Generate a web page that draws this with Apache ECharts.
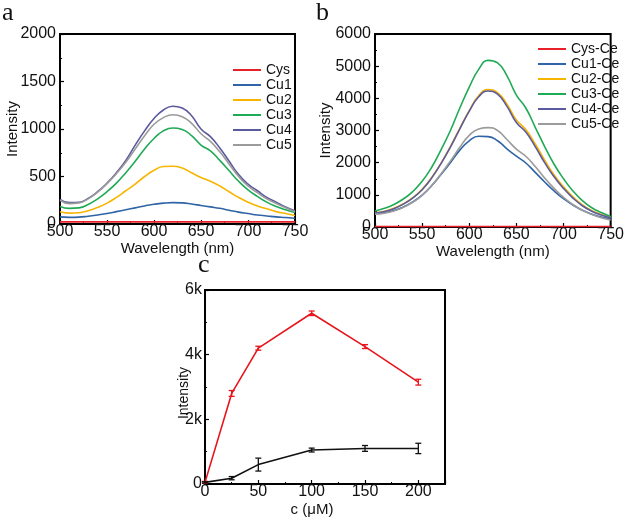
<!DOCTYPE html>
<html>
<head>
<meta charset="utf-8">
<script src="https://cdn.jsdelivr.net/npm/echarts@6/dist/echarts.min.js"></script>
<style>
    html, body { margin: 0; padding: 0; background: #fff; }
    #main { width: 627px; height: 524px; }
</style>
</head>
<body>
<div id="main"></div>
<script>
// wavelength grid shared by panels a and b (nm)
const wavelengths = [500, 510, 520, 530, 540, 550, 560, 570, 580, 590, 600, 610, 620,
    630, 640, 650, 660, 670, 680, 690, 700, 710, 720, 730, 740, 750];

// panel a - intensities
const cysA = [22, 22, 22, 22, 22, 22, 22, 22, 22, 22, 22, 22, 22, 22, 22, 22, 22, 22, 22, 22, 22, 22, 22, 22, 22, 22];
const cu1A = [75, 70, 72, 82, 95, 110, 130, 150, 170, 190, 208, 220, 225, 222, 210, 195, 180, 165, 145, 125, 110, 95, 85, 75, 68, 60];
const cu2A = [130, 115, 118, 140, 175, 220, 280, 350, 420, 500, 565, 605, 608, 590, 540, 490, 450, 400, 340, 280, 230, 190, 160, 130, 110, 90];
const cu3A = [185, 165, 170, 205, 265, 340, 430, 540, 660, 790, 900, 980, 1010, 995, 930, 830, 770, 670, 560, 450, 360, 290, 230, 185, 150, 120];
const cu4A = [260, 225, 228, 270, 340, 430, 540, 670, 830, 980, 1110, 1200, 1240, 1220, 1140, 1000, 920, 800, 660, 520, 420, 350, 280, 230, 180, 140];
const cu5A = [250, 215, 222, 265, 335, 425, 530, 650, 790, 930, 1050, 1120, 1150, 1130, 1060, 950, 870, 760, 630, 500, 400, 330, 265, 215, 170, 130];

// panel b - intensities
const cysB = [15, 15, 15, 15, 15, 15, 15, 15, 15, 15, 15, 15, 15, 15, 15, 15, 15, 15, 15, 15, 15, 15, 15, 15, 15, 15];
const cu1B = [420, 450, 510, 620, 780, 990, 1280, 1630, 2000, 2390, 2680, 2820, 2810, 2680, 2430, 2200, 1990, 1700, 1400, 1120, 880, 680, 520, 400, 310, 250];
const cu2B = [440, 490, 580, 720, 910, 1170, 1530, 1980, 2500, 3070, 3620, 4080, 4270, 4180, 3820, 3330, 3030, 2580, 2080, 1620, 1250, 940, 690, 510, 390, 300];
const cu3B = [500, 580, 700, 870, 1100, 1420, 1850, 2400, 3000, 3700, 4350, 4900, 5180, 5100, 4700, 4100, 3700, 3100, 2500, 1950, 1500, 1120, 820, 600, 450, 330];
const cu4B = [430, 480, 570, 710, 900, 1160, 1520, 1970, 2480, 3050, 3600, 4050, 4230, 4130, 3750, 3250, 2950, 2500, 2000, 1560, 1200, 900, 660, 490, 370, 280];
const cu5B = [400, 430, 500, 610, 770, 980, 1280, 1650, 2050, 2480, 2850, 3050, 3090, 3000, 2720, 2420, 2200, 1880, 1520, 1200, 920, 700, 520, 390, 290, 220];

// panel c - concentration series with error bars
const conc = [0, 25, 50, 100, 150, 200];
const redVals = [50, 2800, 4200, 5280, 4250, 3150];
const redErr = [30, 90, 60, 70, 60, 90];
const blackVals = [50, 180, 600, 1050, 1100, 1100];
const blackErr = [20, 50, 200, 60, 90, 160];

// tick labels panel c
const kLabels = ['0', '2k', '4k', '6k'];

const namesA = ['Cys', 'Cu1', 'Cu2', 'Cu3', 'Cu4', 'Cu5'];
const namesB = ['Cys-Ce', 'Cu1-Ce', 'Cu2-Ce', 'Cu3-Ce', 'Cu4-Ce', 'Cu5-Ce'];
const colors = ['#e8202a', '#2f64a6', '#f7b500', '#1faa55', '#5b5a9e', '#9b9b9b'];

const FONT = '"Liberation Sans", Arial, sans-serif';

const pairs = function (xs, ys) {
    return xs.map((x, i) => [x, ys[i]]);
};

const plain = function (v) {
    return String(v);
};

const errorBar = function (color) {
    return function (params, api) {
        const x = api.value(0);
        const lo = api.coord([x, api.value(1)]);
        const hi = api.coord([x, api.value(2)]);
        const w = 3;
        const style = { stroke: color, lineWidth: 1.3 };
        return {
            type: 'group',
            children: [
                { type: 'line', shape: { x1: lo[0], y1: lo[1], x2: hi[0], y2: hi[1] }, style: style },
                { type: 'line', shape: { x1: lo[0] - w, y1: lo[1], x2: lo[0] + w, y2: lo[1] }, style: style },
                { type: 'line', shape: { x1: hi[0] - w, y1: hi[1], x2: hi[0] + w, y2: hi[1] }, style: style }
            ]
        };
    };
};

const xAxisBase = function (gridIndex, min, max, interval, name, nameGap) {
    return {
        type: 'value',
        gridIndex: gridIndex,
        min: min,
        max: max,
        interval: interval,
        name: name,
        nameLocation: 'middle',
        nameGap: nameGap,
        nameMoveOverlap: false,
        nameTextStyle: { color: '#111', fontSize: 15, fontFamily: FONT },
        axisLine: { show: true, lineStyle: { color: '#000', width: 2 } },
        axisTick: { show: true, inside: true, length: 4, lineStyle: { color: '#000', width: 1.2 } },
        minorTick: { show: true, splitNumber: 2, length: 2, lineStyle: { color: '#000' } },
        axisLabel: { color: '#111', fontSize: 16, fontFamily: FONT, margin: 0, formatter: plain },
        splitLine: { show: false }
    };
};

const yAxisBase = function (gridIndex, min, max, interval, nameGap) {
    return {
        type: 'value',
        gridIndex: gridIndex,
        min: min,
        max: max,
        interval: interval,
        name: 'Intensity',
        nameLocation: 'middle',
        nameGap: nameGap,
        nameMoveOverlap: false,
        nameTextStyle: { color: '#111', fontSize: 15, fontFamily: FONT },
        axisLine: { show: true, lineStyle: { color: '#000', width: 2 } },
        axisTick: { show: true, inside: true, length: 4, lineStyle: { color: '#000', width: 1.2 } },
        minorTick: { show: true, splitNumber: 2, length: 2, lineStyle: { color: '#000' } },
        axisLabel: { color: '#111', fontSize: 16, fontFamily: FONT, margin: 4, formatter: plain },
        splitLine: { show: false }
    };
};

const legendBase = function (left, top, data) {
    return {
        left: left,
        top: top,
        orient: 'vertical',
        icon: 'rect',
        itemWidth: 28,
        itemHeight: 2,
        itemGap: 1,
        data: data,
        selectedMode: false,
        textStyle: { color: '#111', fontSize: 14, fontFamily: FONT, lineHeight: 14 }
    };
};

const lineSeries = function (name, data, color, xi, yi) {
    return {
        name: name,
        type: 'line',
        xAxisIndex: xi,
        yAxisIndex: yi,
        data: data,
        smooth: true,
        showSymbol: false,
        symbol: 'none',
        color: color,
        lineStyle: { width: 1.6, color: color },
        animation: false
    };
};

// Initialize chart
let chart = echarts.init(document.getElementById('main'));

let series = [];
[cysA, cu1A, cu2A, cu3A, cu4A, cu5A].forEach((ys, i) => {
    series.push(lineSeries(namesA[i], pairs(wavelengths, ys), colors[i], 0, 0));
});
[cysB, cu1B, cu2B, cu3B, cu4B, cu5B].forEach((ys, i) => {
    series.push(lineSeries(namesB[i], pairs(wavelengths, ys), colors[i], 1, 1));
});

// panel c lines
series.push(Object.assign(lineSeries('red', pairs(conc, redVals), '#e8141c', 2, 2), { smooth: false }));
series.push(Object.assign(lineSeries('black', pairs(conc, blackVals), '#111', 2, 2), { smooth: false }));
series.push({
    type: 'custom',
    xAxisIndex: 2,
    yAxisIndex: 2,
    renderItem: errorBar('#e8141c'),
    encode: { x: 0, y: [1, 2] },
    data: conc.map((x, i) => [x, redVals[i] - redErr[i], redVals[i] + redErr[i]]),
    z: 5,
    animation: false
});
series.push({
    type: 'custom',
    xAxisIndex: 2,
    yAxisIndex: 2,
    renderItem: errorBar('#111'),
    encode: { x: 0, y: [1, 2] },
    data: conc.map((x, i) => [x, blackVals[i] - blackErr[i], blackVals[i] + blackErr[i]]),
    z: 5,
    animation: false
});

const yC = yAxisBase(2, 0, 6000, 2000, 14);
yC.axisLabel.formatter = function (v) { return kLabels[v / 2000]; };
yC.axisLabel.margin = 3;
yC.nameTextStyle.fontSize = 14;
yC.nameTextStyle.padding = [0, 12, 0, 0];

const xC = xAxisBase(2, 0, 225, 50, 'c (\u03bcM)', 18);
xC.axisLabel.showMaxLabel = false;
xC.nameTextStyle.padding = [0, 26, 0, 0];

chart.setOption({
    animation: false,
    backgroundColor: '#fff',

    // Grids (boxed frames)
    grid: [
        { left: 60, top: 34, width: 235, height: 190, show: true, borderColor: '#000', borderWidth: 2, containLabel: false },
        { left: 375, top: 34, width: 239, height: 193, show: true, borderColor: '#000', borderWidth: 2, containLabel: false },
        { left: 205, top: 290, width: 240, height: 194, show: true, borderColor: '#000', borderWidth: 2, containLabel: false }
    ],

    xAxis: [
        xAxisBase(0, 500, 750, 50, 'Wavelength (nm)', 17),
        xAxisBase(1, 500, 750, 50, 'Wavelength (nm)', 17),
        xC
    ],

    yAxis: [
        yAxisBase(0, 0, 2000, 500, 40),
        yAxisBase(1, 0, 6000, 1000, 42),
        yC
    ],

    legend: [
        legendBase(228, 58, namesA),
        legendBase(533, 37, namesB)
    ],

    // Panel letters
    graphic: [
        { type: 'text', left: 2, top: 0, style: { text: 'a', font: '26px "Liberation Serif", serif', fill: '#111' } },
        { type: 'text', left: 316, top: 0, style: { text: 'b', font: '26px "Liberation Serif", serif', fill: '#111' } },
        { type: 'text', left: 198, top: 252, style: { text: 'c', font: '26px "Liberation Serif", serif', fill: '#111' } }
    ],

    series: series
});
</script>
</body>
</html>
